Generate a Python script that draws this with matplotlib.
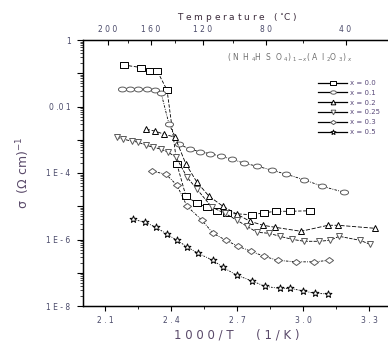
import numpy as np
import matplotlib
matplotlib.use("Agg")
import matplotlib.pyplot as plt
from matplotlib.path import Path
from matplotlib.ticker import LogLocator, NullFormatter, FixedLocator

# ---- data (1000/T in 1/K, log10 sigma) ----
x00_inv = [2.186, 2.264, 2.305, 2.336, 2.382, 2.427, 2.468, 2.518, 2.564, 2.609, 2.655, 2.768, 2.823, 2.877, 2.941, 3.032]
x00_log = [-0.753, -0.828, -0.919, -0.919, -1.506, -3.735, -4.699, -4.91, -5.03, -5.151, -5.211, -5.256, -5.196, -5.151, -5.151, -5.136]

x01_inv = [2.177, 2.214, 2.25, 2.291, 2.327, 2.355, 2.391, 2.436, 2.486, 2.532, 2.577, 2.627, 2.677, 2.732, 2.791, 2.859, 2.923, 3.005, 3.086, 3.186]
x01_log = [-1.476, -1.476, -1.476, -1.476, -1.506, -1.596, -2.53, -3.133, -3.283, -3.358, -3.419, -3.494, -3.584, -3.705, -3.795, -3.916, -4.036, -4.202, -4.398, -4.578]

x02_inv = [2.286, 2.327, 2.368, 2.418, 2.468, 2.518, 2.573, 2.636, 2.7, 2.759, 2.818, 2.873, 2.991, 3.114, 3.159, 3.327]
x02_log = [-2.681, -2.741, -2.831, -2.922, -3.735, -4.277, -4.699, -5.0, -5.241, -5.452, -5.572, -5.633, -5.753, -5.572, -5.572, -5.663]

x025_inv = [2.155, 2.182, 2.223, 2.25, 2.286, 2.318, 2.355, 2.386, 2.423, 2.473, 2.518, 2.586, 2.645, 2.7, 2.745, 2.791, 2.845, 2.895, 2.95, 3.005, 3.073, 3.123, 3.164, 3.259, 3.305]
x025_log = [-2.922, -2.982, -3.042, -3.072, -3.163, -3.223, -3.283, -3.373, -3.524, -4.127, -4.488, -5.03, -5.211, -5.422, -5.602, -5.783, -5.813, -5.904, -5.994, -6.054, -6.054, -6.024, -5.904, -6.024, -6.145]

x03_inv = [2.314, 2.377, 2.427, 2.473, 2.541, 2.591, 2.65, 2.705, 2.764, 2.823, 2.886, 2.968, 3.05, 3.118]
x03_log = [-3.946, -4.036, -4.367, -5.0, -5.422, -5.813, -6.024, -6.205, -6.355, -6.506, -6.627, -6.672, -6.672, -6.627]

x05_inv = [2.227, 2.282, 2.332, 2.382, 2.427, 2.473, 2.523, 2.591, 2.636, 2.7, 2.768, 2.827, 2.895, 2.941, 3.0, 3.055, 3.114]
x05_log = [-5.392, -5.482, -5.633, -5.843, -6.024, -6.22, -6.416, -6.627, -6.837, -7.078, -7.244, -7.41, -7.47, -7.47, -7.545, -7.62, -7.636]

labels = ["x = 0.0", "x = 0.1", "x = 0.2", "x = 0.25", "x = 0.3", "x = 0.5"]

xticks = [2.1, 2.4, 2.7, 3.0, 3.3]
xtick_labels = ["2 . 1", "2 . 4", "2 . 7", "3 . 0", "3 . 3"]
ytick_map = {0: "1", -2: "0 .0 1", -4: "1 E - 4", -6: "1 E - 6", -8: "1 E - 8"}
top_major_C = [200, 160, 120, 80, 40]
top_minor_C = [180, 140, 100, 60]

# ---- markers ----
t = np.linspace(0, 2 * np.pi, 40)
ellipse = Path(np.column_stack([np.cos(t), 0.6 * np.sin(t)]), closed=True)
rect = Path([(-1, -0.65), (1, -0.65), (1, 0.65), (-1, 0.65), (-1, -0.65)], closed=True)
diamond = Path([(0, -0.75), (1, 0), (0, 0.75), (-1, 0), (0, -0.75)], closed=True)
ang = np.pi / 2 + np.arange(10) * np.pi / 5
rad = np.where(np.arange(10) % 2 == 0, 1.0, 0.42)
star = Path(np.column_stack([rad * np.cos(ang), rad * np.sin(ang)]).tolist() + [[0, 1]], closed=True)

fig = plt.figure(figsize=(3.88, 3.42), dpi=100)
ax = fig.add_axes([83 / 388, 1 - 306 / 342, 308 / 388, 266 / 342])

gray = "#5a5a5a"
series = [
    (x00_inv, x00_log, rect, "black", (0, (4, 2)), 5.8),
    (x01_inv, x01_log, ellipse, gray, (0, (3, 1.5, 1, 1.5)), 5.8),
    (x02_inv, x02_log, "^", "black", (0, (5, 2)), 4.8),
    (x025_inv, x025_log, "v", gray, (0, (4, 1.5)), 4.8),
    (x03_inv, x03_log, diamond, gray, (0, (3, 1.5, 1, 1.5)), 5.8),
    (x05_inv, x05_log, star, "black", (0, (2, 1.5, 1, 1.5)), 5.2),
]
for (xi, lg, mk, col, ls, ms), lab in zip(series, labels):
    ax.plot(xi, np.power(10.0, lg), linestyle=ls, color="black", lw=0.6,
            marker=mk, markersize=ms, markerfacecolor="white",
            markeredgecolor=col, markeredgewidth=0.7, label=lab)

ax.set_yscale("log")
ax.set_xlim(2.0, 3.4)
ax.set_ylim(1e-8, 1)

ax.set_xticks(xticks)
ax.set_xticklabels(xtick_labels, fontsize=5.5, color="#4a4a6a")
ax.set_xticks([2.25, 2.55, 2.85, 3.15], minor=True)


def yfmt(v, pos):
    k = int(round(np.log10(v)))
    return ytick_map.get(k, "")


ax.yaxis.set_major_locator(FixedLocator([10.0 ** k for k in range(-8, 1)]))
ax.yaxis.set_major_formatter(plt.FuncFormatter(yfmt))
ax.yaxis.set_minor_locator(LogLocator(base=10, subs=np.arange(2, 10), numticks=20))
ax.yaxis.set_minor_formatter(NullFormatter())
ax.tick_params(axis="y", which="major", length=4, width=0.8, direction="out", pad=5,
               labelsize=5.5, labelcolor="#4a4a6a")
ax.tick_params(axis="y", which="minor", length=2, width=0.5, direction="out")
ax.tick_params(axis="x", which="major", length=3.5, width=0.8, direction="out", pad=4)
ax.tick_params(axis="x", which="minor", length=2, width=0.6, direction="out")
for s in ["left", "bottom", "top"]:
    ax.spines[s].set_linewidth(1.0)
ax.spines["right"].set_visible(False)

# top temperature axis
axt = ax.twiny()
axt.set_xlim(ax.get_xlim())
axt.set_xticks([1000.0 / (c + 273.15) for c in top_major_C])
axt.set_xticklabels([" ".join(str(c)) for c in top_major_C], fontsize=5.5, color="#4a4a6a")
axt.set_xticks([1000.0 / (c + 273.15) for c in top_minor_C], minor=True)
axt.tick_params(axis="x", which="major", length=3.5, width=0.8, direction="in", pad=4)
axt.tick_params(axis="x", which="minor", length=2, width=0.6, direction="in")
axt.spines["right"].set_visible(False)
axt.set_xlabel("T e m p e r a t u r e   ( $^{\\circ}$C )", fontsize=6.5, color="#3a2a3a", labelpad=4)

ax.set_xlabel("1 0 0 0 / T      ( 1 / K )", fontsize=8.5, color="#5a4a6a", labelpad=2)
ax.set_ylabel("σ  (Ω cm)$^{-1}$", fontsize=9, color="#5a4a6a", labelpad=10)

ax.text(0.67, 0.935, "( N  H $_4$H  S  O $_4$) $_{1-x}$( A  l $_2$O $_3$) $_x$",
        transform=ax.transAxes, fontsize=5.5, color="#707070", ha="center", va="center")

leg = ax.legend(loc="upper left", bbox_to_anchor=(0.755, 0.86), frameon=False,
                fontsize=5, handlelength=4.2, labelspacing=0.55, handletextpad=0.4,
                borderaxespad=0, markerscale=0.7)
for h in leg.legend_handles:
    h.set_linestyle("-")
    h.set_linewidth(0.9)
for txt in leg.get_texts():
    txt.set_color("#5a4a7a")

fig.savefig("out.png", dpi=100)
